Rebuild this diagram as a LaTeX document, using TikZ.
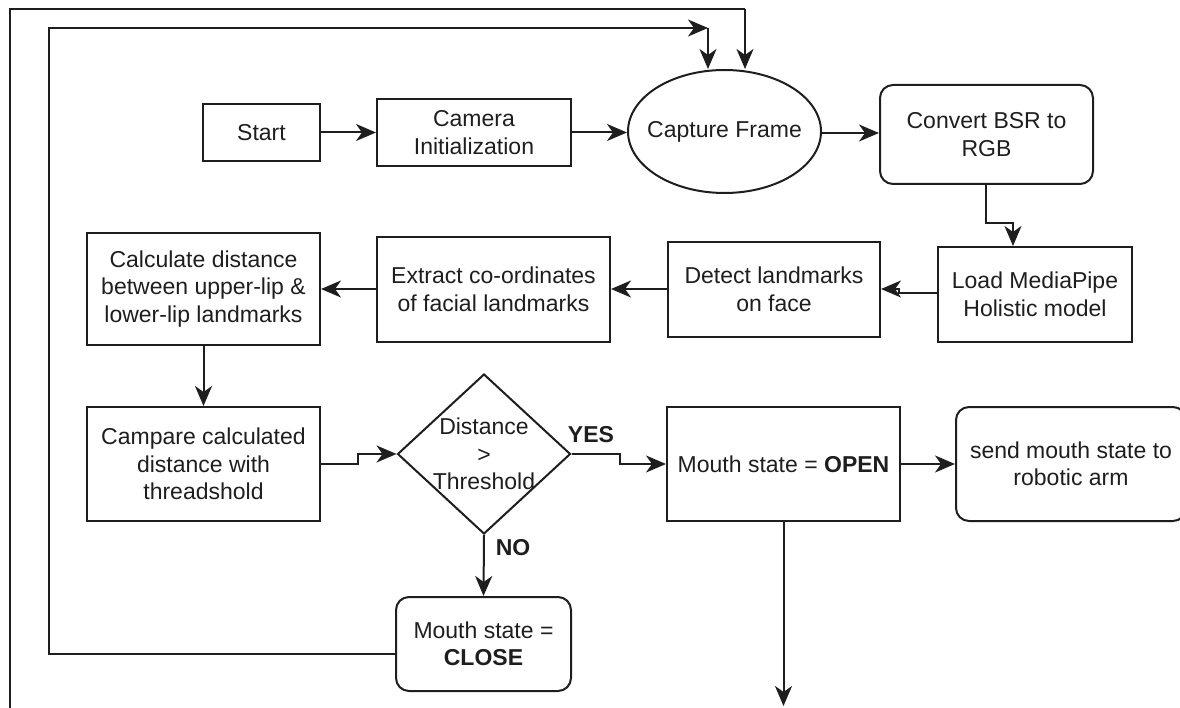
\documentclass[tikz,border=0pt]{standalone}
\usepackage{fontspec}
\setmainfont{Liberation Sans}
\usetikzlibrary{shapes.geometric,arrows.meta}
\definecolor{linec}{RGB}{30,30,30}
\definecolor{textc}{RGB}{30,30,30}
\begin{document}
\begin{tikzpicture}[x=1pt,y=-1pt,
  every node/.style={font=\fontsize{23}{27.5}\selectfont, text=textc, align=center, inner sep=0pt},
  box/.style={draw=linec, line width=2pt, rectangle},
  rbox/.style={box, rounded corners=13pt},
  oval/.style={draw=linec, line width=2pt, ellipse},
  decision/.style={draw=linec, line width=2pt, diamond},
  conn/.style={draw=linec, line width=2pt},
  arr/.style={conn, -{Stealth[length=20pt,width=17pt,inset=6pt]}},
  lbl/.style={font=\fontsize{23}{27.5}\selectfont\bfseries}
]
\useasboundingbox (0,0) rectangle (1180,708);

% nodes
\node[box, minimum width=117pt, minimum height=57pt] (start) at (261.5,132.5) {Start};
\node[box, minimum width=194pt, minimum height=67pt] (cam) at (474,132.5) {Camera\\Initialization};
\node[oval, minimum width=193pt, minimum height=123pt] (cap) at (724.5,131.5) {};
\node (capt) at (cap.center) {Capture Frame};
\node[rbox, minimum width=213pt, minimum height=99pt] (conv) at (986.5,134.5) {Convert BSR to\\RGB};
\node[box, minimum width=194pt, minimum height=95pt] (load) at (1035,294.5) {Load MediaPipe\\Holistic model};
\node[box, minimum width=212pt, minimum height=95pt] (detect) at (774,289.5) {Detect landmarks\\on face};
\node[box, minimum width=233pt, minimum height=105pt] (extract) at (493.5,289.5) {Extract co-ordinates\\of facial landmarks};
\node[box, minimum width=233pt, minimum height=112pt] (calc) at (203.5,289) {Calculate distance\\between upper-lip \&\\lower-lip landmarks};
\node[box, minimum width=233pt, minimum height=114pt] (comp) at (203.5,464) {Campare calculated\\distance with\\threadshold};
\node[decision, minimum width=173pt, minimum height=160pt] (dec) at (484,454) {};
\node (dect) at (dec.center) {Distance\\>\\Threshold};
\node[box, minimum width=233pt, minimum height=114pt] (open) at (783.5,464) {Mouth state = \textbf{OPEN}};
\node[rbox, minimum width=230pt, minimum height=114pt] (send) at (1071,464) {send mouth state to\\robotic arm};
\node[rbox, minimum width=175pt, minimum height=94pt] (close) at (483.5,644) {Mouth state =\\\textbf{CLOSE}};

\node[lbl] (yes) at (591,435) {YES};
\node[lbl] (no) at (513,548) {NO};

% coordinates for loop lines
\coordinate (in1) at (49,28);
\coordinate (in2) at (708,28);
\coordinate (out0) at (10,710);
\coordinate (out1) at (10,9);
\coordinate (out2) at (745,9);
\coordinate (openend) at (783.5,706);

% connectors
\draw[arr] (start.east) -- (cam.west |- start.east);
\draw[arr] (cam.east) -- (cap.west |- cam.east);
\draw[arr] (cap.east |- 0,133) -- (conv.west |- 0,133);
\draw[arr] (conv.south -| 986,0) |- (1013,223) -- (1013,0 |- load.north);
\draw[arr] (load.west |- 0,293) -- (899,293) -- (899,289) -- (detect.east |- 0,289);
\draw[arr] (detect.west |- 0,289) -- (extract.east |- 0,289);
\draw[arr] (extract.west |- 0,289) -- (calc.east |- 0,289);
\draw[arr] (calc.south) -- (comp.north);
\draw[arr] (comp.east) -- (358,464) -- (358,454) -- (dec.west);
\draw[arr] (dec.east) -- (620,454) -- (620,464) -- (open.west);
\draw[arr] (dec.south) -- (close.north);
\draw[arr] (open.east) -- (send.west |- open.east);
\draw[arr] (open.south) -- (openend);

\draw[arr] ([yshift=-10pt]close.west) -| (in1) -- (in2);
\draw[arr] (in2) -- (in2 |- cap.north);
\draw[conn] (out0) -- (out1) -- (out2);
\draw[arr] (out2) -- (out2 |- cap.north);
\end{tikzpicture}
\end{document}
